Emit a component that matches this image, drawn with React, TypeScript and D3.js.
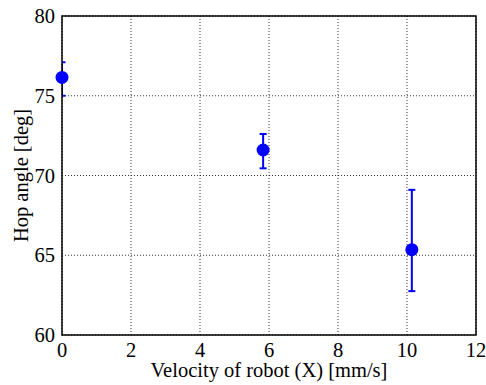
import React from "react";
import * as d3 from "d3";

const velocities = [0.0, 5.83, 10.14];
const hopAngles = [76.15, 71.6, 65.35];
const errLow = [75.0, 70.45, 62.75];
const errHigh = [77.1, 72.6, 69.1];
const xTicks = [0, 2, 4, 6, 8, 10, 12];
const yTicks = [60, 65, 70, 75, 80];

const W = 486, H = 385;
const M = { left: 62, right: 10, top: 16, bottom: 50 };

export default function App() {
  const x = d3.scaleLinear().domain([0, 12]).range([M.left, W - M.right]);
  const y = d3.scaleLinear().domain([60, 80]).range([H - M.bottom, M.top]);
  const font = "'Liberation Serif', 'Times New Roman', serif";
  const fs = 20.5;
  const x0 = x(0), x1 = x(12), y0 = y(60), y1 = y(80);
  return (
    <svg width={W} height={H} style={{ position: "absolute", left: 0, top: 0 }}>
      <rect width={W} height={H} fill="#fff" />
      <defs>
        <clipPath id="plot">
          <rect x={x0} y={y1} width={x1 - x0} height={y0 - y1} />
        </clipPath>
      </defs>
      {xTicks.map((t) => (
        <line key={"gx" + t} x1={x(t)} x2={x(t)} y1={y0} y2={y1} stroke="#000" strokeWidth={1} strokeDasharray="1,2" opacity={0.8} />
      ))}
      {yTicks.map((t) => (
        <line key={"gy" + t} x1={x0} x2={x1} y1={y(t)} y2={y(t)} stroke="#000" strokeWidth={1} strokeDasharray="1,2" opacity={0.8} />
      ))}
      <g clipPath="url(#plot)">
        {velocities.map((v, i) => (
          <g key={"e" + i} stroke="#0000ff" strokeWidth={2}>
            <line x1={x(v)} x2={x(v)} y1={y(errLow[i])} y2={y(errHigh[i])} />
            <line x1={x(v) - 3.5} x2={x(v) + 3.5} y1={y(errLow[i])} y2={y(errLow[i])} />
            <line x1={x(v) - 3.5} x2={x(v) + 3.5} y1={y(errHigh[i])} y2={y(errHigh[i])} />
          </g>
        ))}
      </g>
      <rect x={x0} y={y1} width={x1 - x0} height={y0 - y1} fill="none" stroke="#000" strokeWidth={1.5} />
      {velocities.map((v, i) => (
        <circle key={"c" + i} cx={x(v)} cy={y(hopAngles[i])} r={6.5} fill="#0000ff" />
      ))}
      {xTicks.map((t) => (
        <text key={"tx" + t} x={x(t)} y={y0 + 22} textAnchor="middle" fontFamily={font} fontSize={fs} fill="#000">{t}</text>
      ))}
      {yTicks.map((t) => (
        <text key={"ty" + t} x={x0 - 7} y={y(t) + 7} textAnchor="end" fontFamily={font} fontSize={fs} fill="#000">{t}</text>
      ))}
      <text x={(x0 + x1) / 2} y={H - 8} textAnchor="middle" fontFamily={font} fontSize={fs} fill="#000">Velocity of robot (X) [mm/s]</text>
      <text transform={`translate(28,${(y0 + y1) / 2}) rotate(-90)`} textAnchor="middle" fontFamily={font} fontSize={fs} fill="#000">Hop angle [deg]</text>
    </svg>
  );
}
